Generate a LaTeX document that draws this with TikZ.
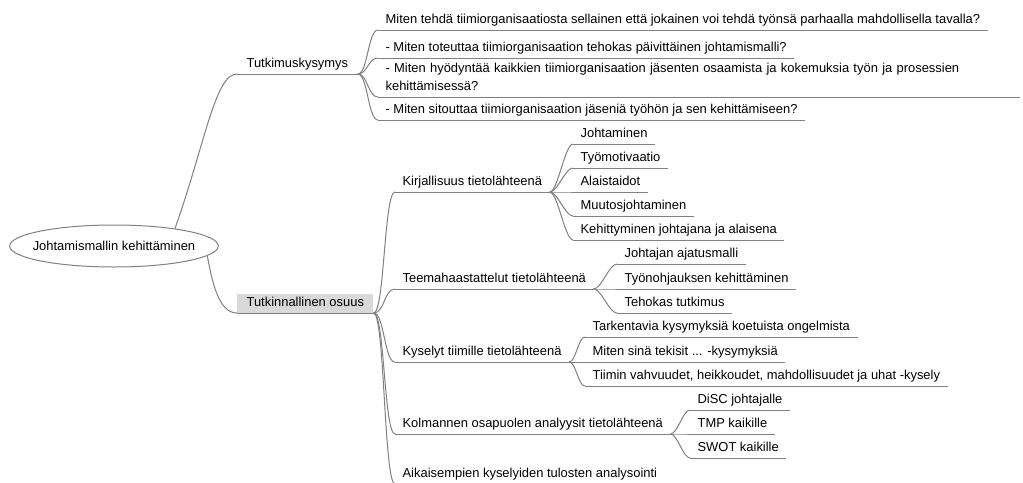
\documentclass[tikz,border=0pt]{standalone}
\usepackage{fontspec}
\setmainfont{Liberation Sans}
\usetikzlibrary{shapes.geometric}
\definecolor{linegray}{RGB}{128,128,128}
\definecolor{boxgray}{RGB}{217,217,217}
\begin{document}
\begin{tikzpicture}[x=0.75pt,y=-0.75pt,
		topic/.style={anchor=south west,inner xsep=5.5pt,inner ysep=2pt,
			text height=0.75em,text depth=0.25em,font=\fontsize{9.7}{13.5}\selectfont},
		maintopic/.style={topic,inner xsep=7pt},
		branch/.style={draw=linegray,line width=0.75pt},
	]
			\useasboundingbox (0,0) rectangle (1023,482);

			\node[branch,ellipse,inner xsep=-5.6pt,inner ysep=0pt,minimum width=153.75pt,minimum height=31.5pt,
				font=\fontsize{9.7}{12}\selectfont] (root) at (114,246) {Johtamismallin kehittäminen};

			\node[maintopic]               (tks) at (237,74)  {Tutkimuskysymys};
			\node[maintopic,fill=boxgray]  (tko) at (237,313) {Tutkinnallinen osuus};

			\node[topic] (q1) at (378,30)  {Miten tehdä tiimiorganisaatiosta sellainen että jokainen voi tehdä työnsä parhaalla mahdollisella tavalla?};
			\node[topic] (q2) at (378,58)  {- Miten toteuttaa tiimiorganisaation tehokas päivittäinen johtamismalli?};
			\node[topic,text width=470pt,align=left,text depth=15.9pt] (q3) at (378,97)
				{- Miten hyödyntää kaikkien tiimiorganisaation jäsenten osaamista ja kokemuksia työn ja prosessien\\kehittämisessä?};
			\node[topic] (q4) at (378,120) {- Miten sitouttaa tiimiorganisaation jäseniä työhön ja sen kehittämiseen?};

			\node[topic] (kir) at (395,192) {Kirjallisuus tietolähteenä};
			\node[topic] (tem) at (395,289) {Teemahaastattelut tietolähteenä};
			\node[topic] (kys) at (395,362) {Kyselyt tiimille tietolähteenä};
			\node[topic] (kol) at (395,434) {Kolmannen osapuolen analyysit tietolähteenä};
			\node[topic] (aik) at (395,484) {Aikaisempien kyselyiden tulosten analysointi};

			\node[topic] (k1) at (573,144) {Johtaminen};
			\node[topic] (k2) at (573,168) {Työmotivaatio};
			\node[topic] (k3) at (573,192) {Alaistaidot};
			\node[topic] (k4) at (573,216) {Muutosjohtaminen};
			\node[topic] (k5) at (573,240) {Kehittyminen johtajana ja alaisena};

			\node[topic] (t1) at (617,264) {Johtajan ajatusmalli};
			\node[topic] (t2) at (617,289) {Työnohjauksen kehittäminen};
			\node[topic] (t3) at (617,313) {Tehokas tutkimus};

			\node[topic] (y1) at (585,337) {Tarkentavia kysymyksiä koetuista ongelmista};
			\node[topic] (y2) at (585,362) {Miten sinä tekisit ... -kysymyksiä};
			\node[topic] (y3) at (585,386) {Tiimin vahvuudet, heikkoudet, mahdollisuudet ja uhat -kysely};

			\node[topic] (c1) at (690,410) {DiSC johtajalle};
			\node[topic] (c2) at (690,434) {TMP kaikille};
			\node[topic] (c3) at (690,458) {SWOT kaikille};

			\foreach \n in {tks,tko,q1,q2,q3,q4,kir,tem,kys,kol,aik,k1,k2,k3,k4,k5,t1,t2,t3,y1,y2,y3,c1,c2,c3}
				\draw[branch] (\n.south west) -- (\n.south east);

			\draw[branch] (root.16) .. controls (205,144) and (215,74)  .. (tks.south west);
			\draw[branch] (root.-6) .. controls (212,280) and (218,313) .. (tko.south west);

			\foreach \n in {q1,q2,q3,q4}
				\draw[branch] (tks.south east) .. controls +(10,0) and +(-10,0) .. (\n.south west);
			\foreach \n in {kir,tem,kys,kol,aik}
				\draw[branch] (tko.south east) .. controls +(11,0) and +(-11,0) .. (\n.south west);
			\foreach \n in {k1,k2,k3,k4,k5}
				\draw[branch] (kir.south east) .. controls +(8,0) and +(-8,0) .. (\n.south west);
			\foreach \n in {t1,t2,t3}
				\draw[branch] (tem.south east) .. controls +(8,0) and +(-8,0) .. (\n.south west);
			\foreach \n in {y1,y2,y3}
				\draw[branch] (kys.south east) .. controls +(7,0) and +(-7,0) .. (\n.south west);
			\foreach \n in {c1,c2,c3}
				\draw[branch] (kol.south east) .. controls +(7,0) and +(-7,0) .. (\n.south west);
		\end{tikzpicture}
\end{document}
